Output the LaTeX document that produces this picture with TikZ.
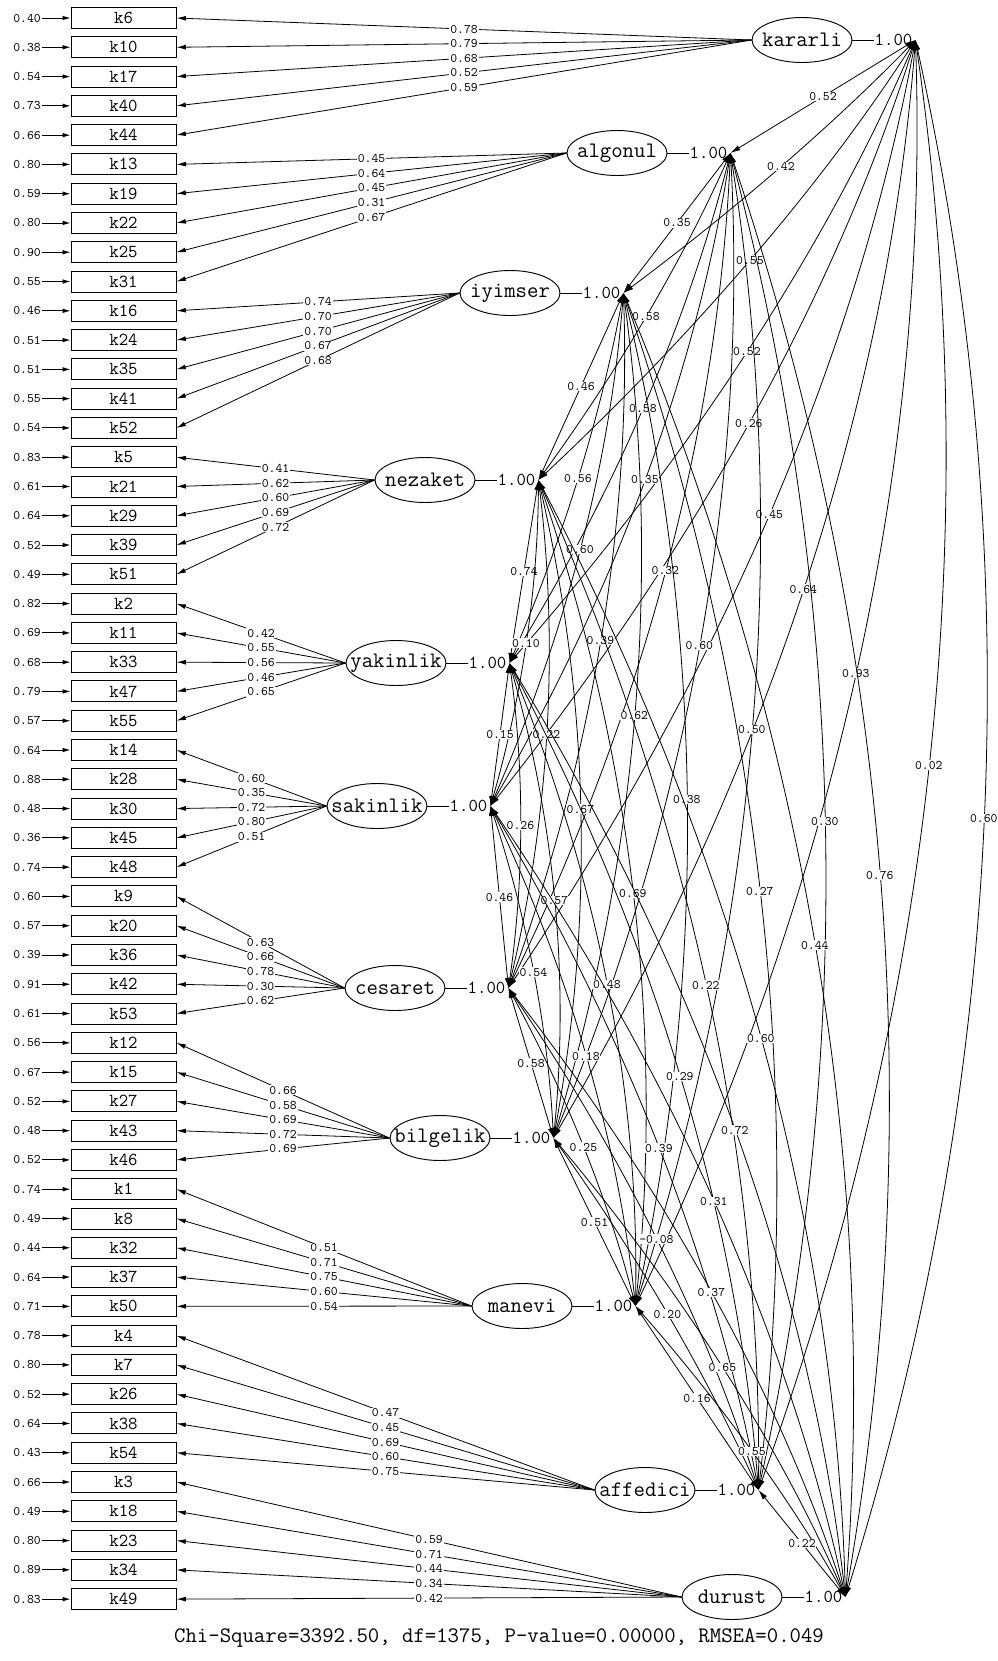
\documentclass[tikz,border=0pt]{standalone}
\usetikzlibrary{shapes.geometric,arrows.meta,calc}
\newcommand\fntlat{\ttfamily\fontsize{16.6}{18}\selectfont}
\newcommand\fntbox{\ttfamily\fontsize{13.7}{15}\selectfont}
\newcommand\fntsmall{\ttfamily\fontsize{9.8}{11}\selectfont}
\newcommand\latxt[1]{\makebox[0pt]{#1}}
\begin{document}
\begin{tikzpicture}[x=0.75pt,y=-0.75pt,
  obs/.style={draw, line width=0.7pt, minimum width=78.75pt, minimum height=15.75pt, inner sep=0pt, font=\fntbox},
  lat/.style={draw, ellipse, line width=0.7pt, minimum width=75pt, minimum height=33.75pt, inner sep=0pt, font=\fntlat},
  one/.style={inner sep=0pt, font=\fntbox},
  lbl/.style={fill=white, inner sep=0.6pt, font=\fntsmall},
  errlbl/.style={inner sep=0.5pt, font=\fntsmall},
  errarr/.style={-{Latex[length=6pt,width=3.5pt]}, line width=0.7pt},
  load/.style={-{Latex[length=7pt,width=3.6pt]}, line width=0.6pt},
  cov/.style={{Latex[length=7.5pt,width=4pt]}-{Latex[length=7.5pt,width=4pt]}, line width=0.6pt},
  varline/.style={line width=0.7pt}]
\useasboundingbox (0,0) rectangle (998,1661);
\fill[white] (0,0) rectangle (998,1661);
% observed variables
\foreach \nm/\er [count=\i from 0] in {k6/0.40,k10/0.38,k17/0.54,k40/0.73,k44/0.66,
  k13/0.80,k19/0.59,k22/0.80,k25/0.90,k31/0.55,
  k16/0.46,k24/0.51,k35/0.51,k41/0.55,k52/0.54,
  k5/0.83,k21/0.61,k29/0.64,k39/0.52,k51/0.49,
  k2/0.82,k11/0.69,k33/0.68,k47/0.79,k55/0.57,
  k14/0.64,k28/0.88,k30/0.48,k45/0.36,k48/0.74,
  k9/0.60,k20/0.57,k36/0.39,k42/0.91,k53/0.61,
  k12/0.56,k15/0.67,k27/0.52,k43/0.48,k46/0.52,
  k1/0.74,k8/0.49,k32/0.44,k37/0.64,k50/0.71,
  k4/0.78,k7/0.80,k26/0.52,k38/0.64,k54/0.43,
  k3/0.66,k18/0.49,k23/0.80,k34/0.89,k49/0.83}{
  \node[obs] (\nm) at (123.5,{18+29.28*\i}) {\nm};
  \node[errlbl] (e\nm) at (27,{18+29.28*\i}) {\er};
  \draw[errarr] (e\nm) -- (\nm);
}
% latent variables
\foreach \n/\nm/\x/\y/\t in {1/K/802/40/kararli,2/A/617/153/algonul,3/I/510/293/iyimser,
  4/N/425/480/nezaket,5/Y/396/663/yakinlik,6/S/377/806/sakinlik,7/C/395/988/cesaret,
  8/B/440/1138/bilgelik,9/M/522/1306/manevi,10/F/645/1490/affedici,11/D/732/1597/durust}{
  \node[lat] (\nm) at (\x,\y) {\latxt{\t}};
  \node[one,anchor=west] (v\nm) at ($(\nm.east)+(22,0)$) {1.00};
  \draw[varline] (\nm.east) -- (v\nm.west);
  \coordinate (P\n) at ($(\nm.east)+(63,0)$);
}
% loadings
\foreach \nm/\ld in {k6/0.78,k10/0.79,k17/0.68,k40/0.52,k44/0.59}
  \draw[load] (K.west) -- (\nm.east) node[pos=0.5,lbl]{\ld};
\foreach \nm/\ld in {k13/0.45,k19/0.64,k22/0.45,k25/0.31,k31/0.67}
  \draw[load] (A.west) -- (\nm.east) node[pos=0.5,lbl]{\ld};
\foreach \nm/\ld in {k16/0.74,k24/0.70,k35/0.70,k41/0.67,k52/0.68}
  \draw[load] (I.west) -- (\nm.east) node[pos=0.5,lbl]{\ld};
\foreach \nm/\ld in {k5/0.41,k21/0.62,k29/0.60,k39/0.69,k51/0.72}
  \draw[load] (N.west) -- (\nm.east) node[pos=0.5,lbl]{\ld};
\foreach \nm/\ld in {k2/0.42,k11/0.55,k33/0.56,k47/0.46,k55/0.65}
  \draw[load] (Y.west) -- (\nm.east) node[pos=0.5,lbl]{\ld};
\foreach \nm/\ld in {k14/0.60,k28/0.35,k30/0.72,k45/0.80,k48/0.51}
  \draw[load] (S.west) -- (\nm.east) node[pos=0.5,lbl]{\ld};
\foreach \nm/\ld in {k9/0.63,k20/0.66,k36/0.78,k42/0.30,k53/0.62}
  \draw[load] (C.west) -- (\nm.east) node[pos=0.5,lbl]{\ld};
\foreach \nm/\ld in {k12/0.66,k15/0.58,k27/0.69,k43/0.72,k46/0.69}
  \draw[load] (B.west) -- (\nm.east) node[pos=0.5,lbl]{\ld};
\foreach \nm/\ld in {k1/0.51,k8/0.71,k32/0.75,k37/0.60,k50/0.54}
  \draw[load] (M.west) -- (\nm.east) node[pos=0.5,lbl]{\ld};
\foreach \nm/\ld in {k4/0.47,k7/0.45,k26/0.69,k38/0.60,k54/0.75}
  \draw[load] (F.west) -- (\nm.east) node[pos=0.5,lbl]{\ld};
\foreach \nm/\ld in {k3/0.59,k18/0.71,k23/0.44,k34/0.34,k49/0.42}
  \draw[load] (D.west) -- (\nm.east) node[pos=0.5,lbl]{\ld};
% covariances
\foreach \i/\j/\v in {1/2/0.52,1/3/0.42,1/4/0.55,1/5/0.52,1/6/0.26,1/7/0.45,1/8/0.64,1/9/0.93,1/10/0.02,1/11/0.60,
  2/3/0.35,2/4/0.58,2/5/0.58,2/6/0.35,2/7/0.32,2/8/0.60,2/9/0.50,2/10/0.30,2/11/0.76,
  3/4/0.46,3/5/0.56,3/6/0.60,3/7/0.39,3/8/0.62,3/9/0.38,3/10/0.27,3/11/0.44,
  4/5/0.74,4/6/0.10,4/7/0.22,4/8/0.67,4/9/0.69,4/10/0.22,4/11/0.60,
  5/6/0.15,5/7/0.26,5/8/0.57,5/9/0.48,5/10/0.29,5/11/0.72,
  6/7/0.46,6/8/0.54,6/9/0.18,6/10/0.39,6/11/0.31,
  7/8/0.58,7/9/0.25,7/10/-0.08,7/11/0.37,
  8/9/0.51,8/10/0.20,8/11/0.65,
  9/10/0.16,9/11/0.55,
  10/11/0.22}{
  \pgfmathsetmacro\hh{15.3*(\j-\i-1)}
  \draw[cov] (P\i) .. controls ($(P\i)!0.3333!(P\j)+(\hh,0)$) and ($(P\i)!0.6667!(P\j)+(\hh,0)$) .. (P\j) node[pos=0.5,lbl]{\v};
}
\node[font=\fntlat] (chi) at (499,1638) {Chi-Square=3392.50, df=1375, P-value=0.00000, RMSEA=0.049};
\end{tikzpicture}
\end{document}
